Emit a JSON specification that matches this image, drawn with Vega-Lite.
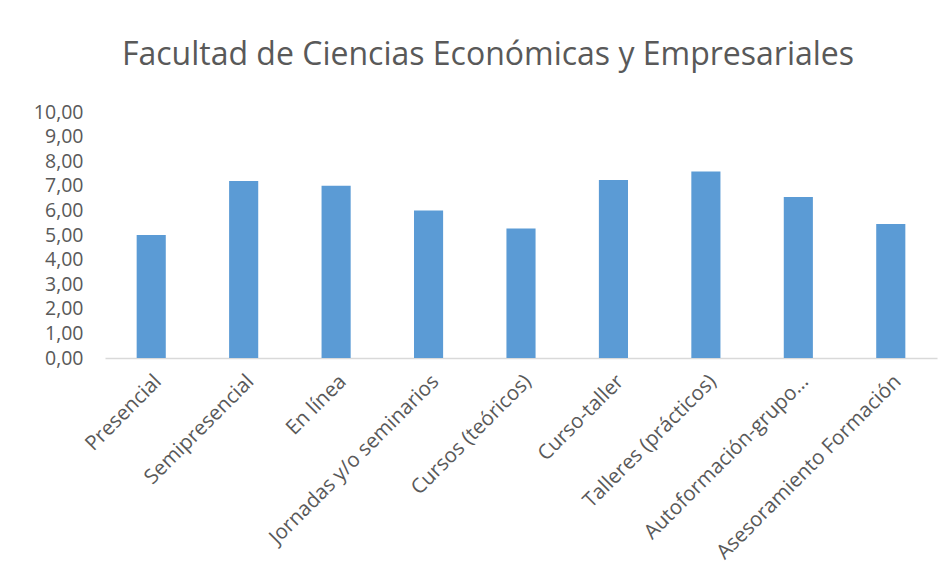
{
  "$schema": "https://vega.github.io/schema/vega-lite/v6.json",
  "autosize": "none",
  "width": 832,
  "height": 246,
  "padding": {"left": 105, "top": 112, "right": 14, "bottom": 226},
  "background": "white",
  "title": {
    "text": "Facultad de Ciencias Económicas y Empresariales",
    "fontSize": 32,
    "font": "Open Sans",
    "fontWeight": "normal",
    "color": "#595959",
    "anchor": "middle",
    "dx": -33,
    "offset": 30
  },
  "data": {
    "values": [
      {"modalidad": "Presencial", "valor": 5.0},
      {"modalidad": "Semipresencial", "valor": 7.2},
      {"modalidad": "En línea", "valor": 7.0},
      {"modalidad": "Jornadas y/o seminarios", "valor": 6.0},
      {"modalidad": "Cursos (teóricos)", "valor": 5.26},
      {"modalidad": "Curso-taller", "valor": 7.24},
      {"modalidad": "Talleres (prácticos)", "valor": 7.58},
      {"modalidad": "Autoformación-grupo…", "valor": 6.54},
      {"modalidad": "Asesoramiento Formación", "valor": 5.45}
    ]
  },
  "mark": {"type": "bar", "color": "#5B9BD5", "width": {"band": 0.315}},
  "encoding": {
    "x": {
      "field": "modalidad",
      "type": "nominal",
      "sort": null,
      "scale": {"paddingInner": 0, "paddingOuter": 0},
      "axis": {
        "title": null,
        "labelAngle": -45,
        "labelFont": "Open Sans",
        "labelFontSize": 20.5,
        "labelColor": "#595959",
        "labelPadding": 13,
        "ticks": false,
        "domainColor": "#D9D9D9",
        "domainWidth": 1.5,
        "labelLimit": 400
      }
    },
    "y": {
      "field": "valor",
      "type": "quantitative",
      "scale": {"domain": [0, 10]},
      "axis": {
        "title": null,
        "values": [0, 1, 2, 3, 4, 5, 6, 7, 8, 9, 10],
        "labelExpr": "replace(format(datum.value, '.2f'), '.', ',')",
        "labelFont": "Open Sans",
        "labelFontSize": 19.5,
        "labelColor": "#595959",
        "labelPadding": 22,
        "ticks": false,
        "domain": false,
        "grid": false
      }
    }
  },
  "config": {"view": {"stroke": null}}
}
